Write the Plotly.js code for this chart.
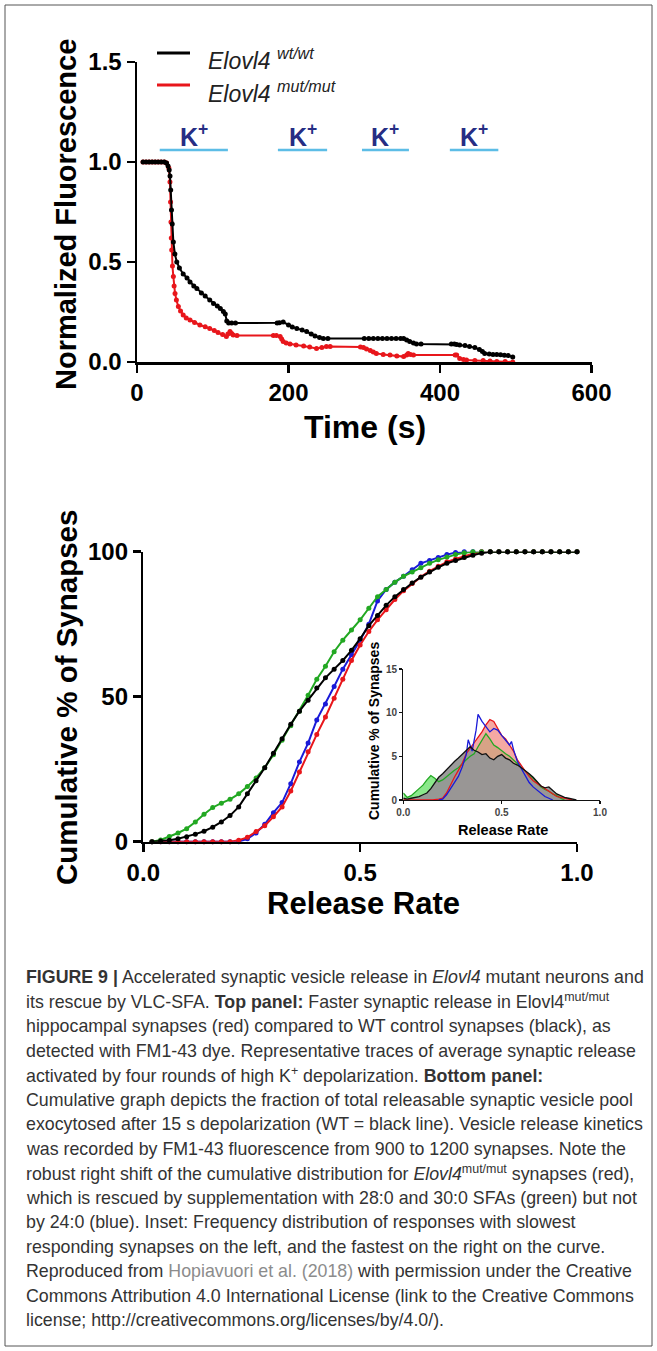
<!DOCTYPE html>
<html>
<head>
<meta charset="utf-8">
<script src="https://cdn.plot.ly/plotly-3.0.1.min.js"></script>
<style>
  html, body { margin: 0; padding: 0; background: #fff; }
  #chart { width: 657px; height: 1351px; }
</style>
</head>
<body>
<div id="chart"></div>
<script>
// ---------------- TOP PANEL DATA (Normalized fluorescence vs time) ----------------
const wtTime = [8, 12, 16, 20, 24, 28, 32, 36, 39, 41, 42.5, 43.6, 44.5, 45.5, 46.5, 48, 50, 52.5, 56, 61, 66, 70, 75, 79, 85, 90, 96, 101, 106, 110, 114, 116.5, 118.5, 121, 125, 130, 185, 188, 193, 200, 205, 211, 218, 224, 230, 235, 241, 246, 252, 300, 306, 312, 318, 324, 330, 336, 342, 348, 352, 356, 360, 365, 369, 375, 415, 419, 422, 426, 433, 439, 446, 452, 456, 459, 465, 470, 475, 480, 485, 490, 496];
const wtValue = [1.0, 1.0, 1.0, 1.0, 1.0, 1.0, 1.0, 1.0, 0.995, 0.98, 0.96, 0.93, 0.86, 0.76, 0.69, 0.6, 0.54, 0.5, 0.47, 0.44, 0.42, 0.4, 0.38, 0.368, 0.345, 0.33, 0.31, 0.293, 0.28, 0.268, 0.253, 0.24, 0.205, 0.195, 0.195, 0.195, 0.195, 0.196, 0.2, 0.185, 0.175, 0.168, 0.16, 0.152, 0.14, 0.13, 0.122, 0.118, 0.118, 0.118, 0.118, 0.118, 0.118, 0.118, 0.118, 0.118, 0.118, 0.118, 0.117, 0.11, 0.102, 0.095, 0.09, 0.09, 0.09, 0.09, 0.088, 0.085, 0.082, 0.077, 0.072, 0.063, 0.052, 0.043, 0.04, 0.038, 0.037, 0.036, 0.034, 0.032, 0.025];

const mutTime = [8, 12, 16, 20, 24, 28, 32, 36, 39, 42, 43.5, 44.3, 44.8, 45.3, 45.8, 46.8, 48, 49, 50.2, 52, 54.6, 57.5, 61, 65, 70, 76, 83, 90, 96, 102, 107, 113, 118, 120, 122.8, 125, 127, 132, 180, 184, 189, 191, 193, 197, 202, 210, 220, 228, 237, 244, 250, 255, 295, 299, 303, 308, 312, 316, 325, 334, 343, 352, 356, 358, 361, 365, 420, 422, 426, 431, 435, 446, 457, 466, 475, 486, 496];
const mutValue = [1.0, 1.0, 1.0, 1.0, 1.0, 1.0, 1.0, 1.0, 0.995, 0.97, 0.9, 0.8, 0.7, 0.62, 0.56, 0.48, 0.427, 0.38, 0.343, 0.31, 0.277, 0.255, 0.235, 0.22, 0.21, 0.197, 0.185, 0.176, 0.168, 0.158, 0.147, 0.137, 0.127, 0.14, 0.152, 0.142, 0.135, 0.132, 0.132, 0.132, 0.127, 0.115, 0.102, 0.095, 0.09, 0.085, 0.08, 0.075, 0.068, 0.072, 0.077, 0.078, 0.075, 0.073, 0.065, 0.057, 0.05, 0.043, 0.038, 0.035, 0.03, 0.027, 0.035, 0.043, 0.038, 0.035, 0.035, 0.035, 0.018, 0.012, 0.01, 0.008, 0.007, 0.005, 0.003, 0.002, 0.0];

// K+ stimulation windows (s)
const kStart = [30, 186, 297, 413];
const kEnd   = [120, 251, 359, 477];
const kLabel = 'K<sup>+</sup>';
const kLevel = 1.06;
const kTextLevel = 1.135;

const legendLabels = ['<i>Elovl4 <sup>wt/wt</sup></i>', '<i>Elovl4 <sup>mut/mut</sup></i>'];

// ---------------- BOTTOM PANEL DATA (cumulative %) ----------------
const releaseRate = [0.02, 0.04, 0.06, 0.08, 0.10, 0.12, 0.14, 0.16, 0.18, 0.20, 0.22, 0.24, 0.26, 0.28, 0.30, 0.32, 0.34, 0.36, 0.38, 0.40, 0.42, 0.44, 0.46, 0.48, 0.50, 0.52, 0.54, 0.56, 0.58, 0.60, 0.62, 0.64, 0.66, 0.68, 0.70, 0.72, 0.74, 0.76, 0.78, 0.80, 0.82, 0.84, 0.86, 0.88, 0.90, 0.92, 0.94, 0.96, 0.98, 1.00];
const wtCum    = [0, 0.2, 0.5, 1.0, 1.7, 2.6, 3.6, 5.0, 6.8, 9.0, 12.0, 16.5, 21.0, 25.5, 30.5, 35.5, 40.5, 45.0, 48.8, 53.0, 56.5, 59.5, 62.5, 66.0, 70.0, 74.5, 78.0, 81.5, 84.5, 87.0, 89.2, 91.2, 93.0, 94.6, 96.0, 97.0, 98.0, 98.8, 99.5, 100, 100, 100, 100, 100, 100, 100, 100, 100, 100, 100];
const mutCum   = [0, 0, 0, 0, 0, 0, 0, 0, 0, 0, 0.5, 1.5, 3.5, 5.5, 8.6, 12.0, 17.5, 24.0, 31.0, 37.0, 43.0, 49.5, 56.0, 62.5, 67.8, 72.5, 76.5, 80.0, 83.5, 86.5, 89.0, 91.3, 93.3, 95.0, 96.5, 97.5, 98.5, 99.3, 100, 100, 100, 100, 100, 100, 100, 100, 100, 100, 100, 100];
const sfa28Cum = [0, 0.6, 1.8, 3.0, 4.5, 6.8, 9.5, 11.8, 13.3, 14.6, 16.5, 19.0, 22.0, 25.5, 30.0, 35.0, 40.0, 45.0, 50.5, 56.0, 60.5, 65.5, 69.5, 73.0, 76.5, 80.5, 84.5, 87.0, 89.5, 91.5, 93.0, 94.5, 96.0, 97.2, 98.2, 99.0, 99.6, 100, 100, 100, 100, 100, 100, 100, 100, 100, 100, 100, 100, 100];
const sfa24Cum = [0, 0, 0, 0, 0, 0, 0, 0, 0, 0, 0, 1.0, 3.0, 6.0, 10.0, 13.5, 20.0, 27.5, 34.0, 42.0, 47.5, 53.5, 59.5, 64.5, 69.5, 75.0, 83.0, 87.0, 89.5, 91.5, 93.8, 96.0, 97.0, 98.0, 99.0, 99.7, 100, 100, 100, 100, 100, 100, 100, 100, 100, 100, 100, 100, 100, 100];

// ---------------- INSET DATA (frequency distribution, %) ----------------
const insWtX = [0, 0.02, 0.04, 0.06, 0.08, 0.10, 0.12, 0.14, 0.16, 0.18, 0.20, 0.22, 0.24, 0.26, 0.28, 0.30, 0.32, 0.34, 0.36, 0.38, 0.40, 0.42, 0.44, 0.46, 0.48, 0.50, 0.52, 0.54, 0.56, 0.58, 0.60, 0.62, 0.64, 0.66, 0.68, 0.70, 0.72, 0.74, 0.76, 0.78, 0.80, 0.82, 0.84, 0.86, 0.88];
const insWtY = [0.2, 0.1, 0.2, 0.3, 0.4, 0.6, 0.8, 1.3, 2.0, 2.6, 3.0, 3.5, 4.0, 4.4, 4.8, 5.2, 5.6, 6.1, 5.7, 5.5, 5.2, 5.3, 4.8, 4.6, 5.0, 5.2, 4.8, 4.6, 4.2, 4.0, 3.7, 3.4, 3.0, 2.6, 2.1, 1.6, 1.4, 1.5, 1.1, 0.7, 0.5, 0.3, 0.2, 0.1, 0.0];
const insSfa28X = [0, 0.02, 0.04, 0.06, 0.08, 0.10, 0.12, 0.14, 0.16, 0.18, 0.20, 0.22, 0.24, 0.26, 0.28, 0.30, 0.32, 0.34, 0.36, 0.38, 0.40, 0.42, 0.44, 0.46, 0.48, 0.50, 0.52, 0.54, 0.56, 0.58, 0.60, 0.62, 0.64, 0.66, 0.68, 0.70, 0.72, 0.74, 0.76, 0.78, 0.80, 0.82];
const insSfa28Y = [0.8, 0.3, 0.5, 0.9, 1.2, 1.7, 2.3, 2.8, 2.5, 2.1, 2.3, 2.7, 3.0, 3.4, 3.7, 4.2, 4.6, 5.0, 5.3, 6.1, 6.8, 7.6, 7.0, 6.3, 6.0, 5.6, 5.3, 5.0, 4.6, 4.2, 3.8, 3.3, 3.0, 2.5, 2.0, 1.5, 1.2, 1.0, 0.7, 0.5, 0.2, 0.0];
const insMutX = [0, 0.05, 0.10, 0.15, 0.18, 0.20, 0.22, 0.24, 0.26, 0.28, 0.30, 0.32, 0.34, 0.36, 0.38, 0.40, 0.42, 0.44, 0.46, 0.48, 0.50, 0.52, 0.54, 0.56, 0.58, 0.60, 0.62, 0.64, 0.66, 0.68, 0.70, 0.72, 0.74, 0.76, 0.78, 0.80, 0.82, 0.84, 0.86];
const insMutY = [0, 0, 0, 0, 0.1, 0.2, 0.8, 1.8, 2.6, 3.4, 4.2, 5.3, 5.9, 6.5, 7.2, 7.8, 8.6, 9.2, 9.0, 8.2, 7.4, 7.0, 6.3, 5.6, 4.6, 3.9, 3.3, 2.7, 2.2, 1.9, 1.6, 1.3, 0.9, 0.6, 0.4, 0.3, 0.2, 0.1, 0.0];
const insSfa24X = [0.18, 0.20, 0.22, 0.24, 0.26, 0.28, 0.30, 0.32, 0.33, 0.35, 0.37, 0.38, 0.40, 0.42, 0.44, 0.46, 0.48, 0.50, 0.52, 0.54, 0.55, 0.56, 0.58, 0.60, 0.62, 0.64, 0.66, 0.68, 0.70, 0.72, 0.74, 0.76];
const insSfa24Y = [0, 0.1, 0.6, 1.3, 1.9, 2.7, 3.8, 5.2, 6.9, 5.6, 8.0, 9.8, 9.0, 8.4, 7.8, 8.2, 8.0, 7.4, 6.9, 6.3, 6.7, 5.8, 4.4, 3.6, 2.8, 2.0, 1.5, 1.1, 0.7, 0.4, 0.2, 0.0];

// ---------------- CAPTION ----------------
const captionLines = [
  '<b>FIGURE 9 |</b> Accelerated synaptic vesicle release in <i>Elovl4</i> mutant neurons and',
  'its rescue by VLC-SFA. <b>Top panel:</b> Faster synaptic release in Elovl4<sup>mut/mut</sup>',
  'hippocampal synapses (red) compared to WT control synapses (black), as',
  'detected with FM1-43 dye. Representative traces of average synaptic release',
  'activated by four rounds of high K<sup>+</sup> depolarization. <b>Bottom panel:</b>',
  'Cumulative graph depicts the fraction of total releasable synaptic vesicle pool',
  'exocytosed after 15 s depolarization (WT = black line). Vesicle release kinetics',
  'was recorded by FM1-43 fluorescence from 900 to 1200 synapses. Note the',
  'robust right shift of the cumulative distribution for <i>Elovl4</i><sup>mut/mut</sup> synapses (red),',
  'which is rescued by supplementation with 28:0 and 30:0 SFAs (green) but not',
  'by 24:0 (blue). Inset: Frequency distribution of responses with slowest',
  'responding synapses on the left, and the fastest on the right on the curve.',
  'Reproduced from <span style="color:#8c8c8c">Hopiavuori et al. (2018)</span> with permission under the Creative',
  'Commons Attribution 4.0 International License (link to the Creative Commons',
  'license; http://creativecommons.org/licenses/by/4.0/).'
];

// ---------------- STYLE / LAYOUT ----------------
const W = 657, H = 1351;
const PX = v => v / W;
const PY = v => 1 - v / H;
const FONT = 'Liberation Sans, Arial, Helvetica, sans-serif';
const CAPFONT = 'Liberation Sans, Arial, Helvetica, sans-serif';
const RED = '#e8161b', BLUE = '#1a1ad8', GREEN = '#22a822', BLACK = '#000000';

function axisStyle(extra) {
  return Object.assign({
    showline: true, linecolor: '#000', linewidth: 2.5,
    ticks: 'outside', ticklen: 8, tickwidth: 2.5, tickcolor: '#000',
    showgrid: false, zeroline: false, fixedrange: true,
    tickfont: { family: FONT, size: 24, color: '#000', weight: 'bold' }
  }, extra);
}
function insetAxis(extra) {
  return Object.assign({
    showline: true, linecolor: '#111', linewidth: 1.2,
    ticks: 'outside', ticklen: 3, tickwidth: 1.2, tickcolor: '#111',
    showgrid: false, zeroline: false, fixedrange: true,
    tickfont: { family: FONT, size: 10, color: '#444', weight: 'bold' }
  }, extra);
}

const traces = [];
// top panel
traces.push({ x: mutTime, y: mutValue, xaxis: 'x', yaxis: 'y', type: 'scatter', mode: 'lines+markers',
  line: { color: RED, width: 2 }, marker: { color: RED, size: 5 }, cliponaxis: false, hoverinfo: 'skip' });
traces.push({ x: wtTime, y: wtValue, xaxis: 'x', yaxis: 'y', type: 'scatter', mode: 'lines+markers',
  line: { color: BLACK, width: 2 }, marker: { color: BLACK, size: 5 }, cliponaxis: false, hoverinfo: 'skip' });

// bottom panel cumulative
[[sfa24Cum, BLUE], [mutCum, RED], [sfa28Cum, GREEN], [wtCum, BLACK]].forEach(([ys, c]) => {
  traces.push({ x: releaseRate, y: ys, xaxis: 'x2', yaxis: 'y2', type: 'scatter', mode: 'lines+markers',
    line: { color: c, width: 2 }, marker: { color: c, size: 5 }, cliponaxis: false, hoverinfo: 'skip' });
});

// inset fills
traces.push({ x: insSfa28X, y: insSfa28Y, xaxis: 'x3', yaxis: 'y3', type: 'scatter', mode: 'none',
  fill: 'tozeroy', fillcolor: 'rgba(110,226,110,0.8)', hoverinfo: 'skip' });
traces.push({ x: insMutX, y: insMutY, xaxis: 'x3', yaxis: 'y3', type: 'scatter', mode: 'none',
  fill: 'tozeroy', fillcolor: 'rgba(242,140,132,0.75)', hoverinfo: 'skip' });
traces.push({ x: insWtX, y: insWtY, xaxis: 'x3', yaxis: 'y3', type: 'scatter', mode: 'none',
  fill: 'tozeroy', fillcolor: 'rgba(150,150,150,0.95)', hoverinfo: 'skip' });
// inset outlines
[[insSfa28X, insSfa28Y, GREEN], [insMutX, insMutY, RED], [insSfa24X, insSfa24Y, BLUE], [insWtX, insWtY, '#111']].forEach(([xs, ys, c]) => {
  traces.push({ x: xs, y: ys, xaxis: 'x3', yaxis: 'y3', type: 'scatter', mode: 'lines',
    line: { color: c, width: 1.3 }, cliponaxis: false, hoverinfo: 'skip' });
});

const shapes = [];
const annotations = [];

// outer frame
shapes.push({ type: 'rect', xref: 'paper', yref: 'paper', x0: PX(5), x1: PX(652), y0: PY(1346), y1: PY(5),
  line: { color: '#555', width: 1 }, fillcolor: 'rgba(0,0,0,0)' });

// K+ bars and labels
kStart.forEach((s, i) => {
  shapes.push({ type: 'line', xref: 'x', yref: 'y', x0: s, x1: kEnd[i], y0: kLevel, y1: kLevel,
    line: { color: '#5cbde6', width: 2.5 } });
  annotations.push({ xref: 'x', yref: 'y', x: (s + kEnd[i]) / 2, y: kTextLevel, text: kLabel, showarrow: false,
    xanchor: 'center', yanchor: 'middle', font: { family: FONT, size: 25, color: '#262d84', weight: 'bold' } });
});

// legend (top panel)
const legendColors = [BLACK, RED];
const legendY = [53, 85];
const legendTextY = [59, 92];
legendLabels.forEach((t, i) => {
  shapes.push({ type: 'line', xref: 'paper', yref: 'paper', x0: PX(157), x1: PX(190), y0: PY(legendY[i]), y1: PY(legendY[i]),
    line: { color: legendColors[i], width: 3 } });
  annotations.push({ xref: 'paper', yref: 'paper', x: PX(206), y: PY(legendTextY[i]), text: t, showarrow: false,
    xanchor: 'left', yanchor: 'middle', font: { family: FONT, size: 23, color: '#222' } });
});

// axis titles
function title(text, x, y, size, angle) {
  annotations.push({ xref: 'paper', yref: 'paper', x: PX(x), y: PY(y), text: text, showarrow: false,
    xanchor: 'center', yanchor: 'middle', textangle: angle || 0,
    font: { family: FONT, size: size, color: '#000', weight: 'bold' } });
}
title('Normalized Fluorescence', 66, 215, 29, -90);
title('Time (s)', 365, 427, 32);
title('Cumulative % of Synapses', 66, 698, 29.5, -90);
title('Release Rate', 363, 903, 31);
title('Cumulative % of Synapses', 374, 731, 14, -90);
title('Release Rate', 503, 830, 14.5);

// caption
const capTop = 977, capStep = 24.5;
captionLines.forEach((t, i) => {
  annotations.push({ xref: 'paper', yref: 'paper', x: PX(24), y: PY(capTop + i * capStep), text: t, showarrow: false,
    xanchor: 'left', yanchor: 'middle', align: 'left',
    font: { family: CAPFONT, size: 17.8, color: '#333' } });
});

const layout = {
  width: W, height: H, margin: { l: 0, r: 0, t: 0, b: 0 },
  paper_bgcolor: '#ffffff', plot_bgcolor: 'rgba(0,0,0,0)', showlegend: false,
  xaxis: axisStyle({ domain: [PX(137), PX(591.5)], range: [0, 600], anchor: 'y', tickvals: [0, 200, 400, 600] }),
  yaxis: axisStyle({ domain: [PY(362), PY(62)], range: [0, 1.5], anchor: 'x', tickvals: [0, 0.5, 1, 1.5], tickformat: '.1f' }),
  xaxis2: axisStyle({ domain: [PX(143.3), PX(577)], range: [0, 1], anchor: 'y2', tickvals: [0, 0.5, 1], tickformat: '.1f' }),
  yaxis2: axisStyle({ domain: [PY(841.7), PY(551.7)], range: [0, 100], anchor: 'x2', tickvals: [0, 50, 100] }),
  xaxis3: insetAxis({ domain: [PX(403.3), PX(600)], range: [0, 1], anchor: 'y3', tickvals: [0, 0.5, 1], tickformat: '.1f' }),
  yaxis3: insetAxis({ domain: [PY(800), PY(669)], range: [0, 15], anchor: 'x3', tickvals: [0, 5, 10, 15] }),
  shapes: shapes,
  annotations: annotations
};

Plotly.newPlot('chart', traces, layout, { staticPlot: true, displayModeBar: false });
</script>
</body>
</html>
